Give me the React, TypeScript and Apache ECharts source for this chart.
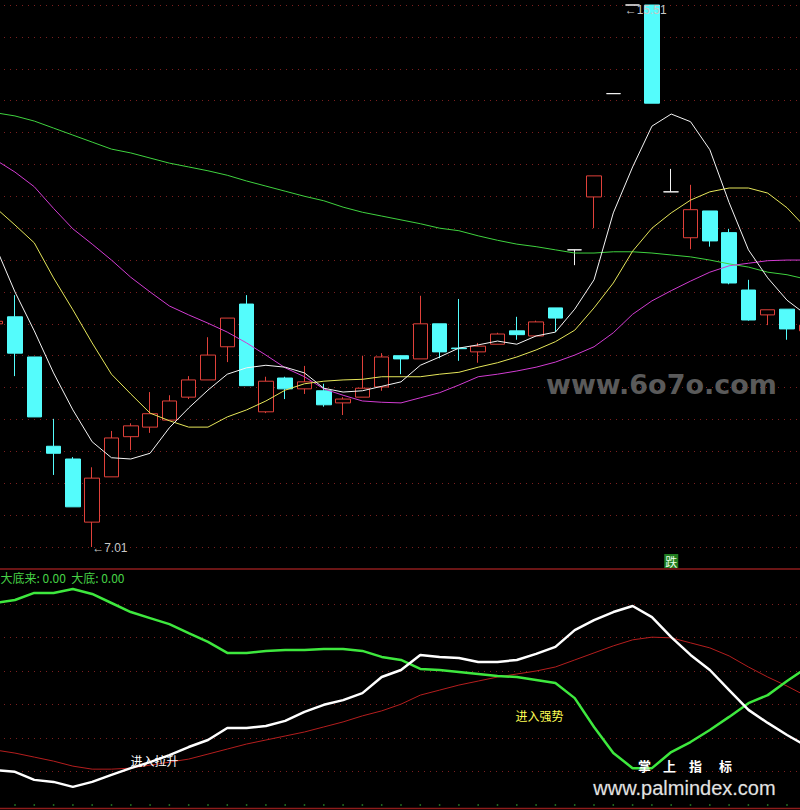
import React, { useEffect, useRef } from "react";
import * as echarts from "echarts";

// 43 trading days (first and last partially visible)
const categories = [
  "D01","D02","D03","D04","D05","D06","D07","D08","D09","D10",
  "D11","D12","D13","D14","D15","D16","D17","D18","D19","D20",
  "D21","D22","D23","D24","D25","D26","D27","D28","D29","D30",
  "D31","D32","D33","D34","D35","D36","D37","D38","D39","D40",
  "D41","D42","D43",
];

const openPrices = [
  10.51, 10.62, 9.99, 8.59, 8.39, 7.40, 8.11, 8.74, 8.89, 9.00,
  9.36, 9.63, 10.15, 10.82, 9.13, 9.66, 9.49, 9.46, 9.27, 9.36,
  9.52, 10.01, 9.96, 10.51, 10.13, 10.07, 10.19, 10.40, 10.32, 10.76,
  11.67, 12.50, 14.12, 15.51, 15.51, 12.58, 11.86, 12.28, 11.94, 11.04,
  10.65, 10.74, 10.40,
];
const closePrices = [
  10.55, 10.05, 9.05, 8.48, 7.64, 8.09, 8.72, 8.91, 9.10, 9.30,
  9.63, 10.02, 10.60, 9.54, 9.61, 9.49, 9.60, 9.24, 9.33, 9.50,
  9.99, 9.96, 10.51, 10.07, 10.12, 10.16, 10.35, 10.34, 10.54, 10.60,
  11.67, 12.83, 14.12, 15.51, 13.97, 12.58, 12.30, 11.81, 11.15, 10.57,
  10.73, 10.43, 10.49,
];
const lowPrices = [
  10.48, 9.69, 9.05, 8.14, 7.64, 7.01, 8.11, 8.53, 8.80, 9.00,
  9.33, 9.63, 9.91, 9.54, 9.11, 9.33, 9.41, 9.21, 9.08, 9.36,
  9.46, 9.72, 9.96, 9.97, 9.93, 9.90, 10.19, 10.26, 10.32, 10.38,
  11.43, 12.01, 14.12, 15.51, 13.97, 12.58, 11.68, 11.72, 11.13, 10.56,
  10.49, 10.26, 10.40,
];
const highPrices = [
  10.57, 10.96, 9.99, 9.02, 8.42, 8.26, 8.83, 8.95, 9.44, 9.39,
  9.69, 10.30, 10.60, 10.96, 9.68, 9.68, 9.85, 9.57, 9.36, 10.01,
  10.05, 10.01, 10.95, 10.51, 10.90, 10.21, 10.37, 10.62, 10.56, 10.76,
  11.67, 12.83, 14.12, 15.51, 15.51, 12.94, 12.69, 12.28, 12.00, 11.20,
  10.73, 10.74, 10.49,
];

const ma5 = [
  11.72, 11.01, 10.40, 9.74, 9.16, 8.66, 8.41, 8.39, 8.48, 8.88,
  9.19, 9.47, 9.72, 9.82, 9.86, 9.83, 9.74, 9.50, 9.44, 9.46,
  9.53, 9.60, 9.86, 9.99, 10.13, 10.18, 10.24, 10.19, 10.32, 10.38,
  10.74, 11.20, 12.25, 12.97, 13.61, 13.80, 13.68, 13.24, 12.41, 11.67,
  11.23, 10.88, 10.65,
];
const ma10 = [
  12.33, 12.06, 11.78, 11.23, 10.73, 10.21, 9.72, 9.41, 9.11, 8.99,
  8.89, 8.89, 9.05, 9.16, 9.30, 9.47, 9.57, 9.61, 9.63, 9.64,
  9.68, 9.68, 9.68, 9.72, 9.75, 9.83, 9.90, 9.99, 10.10, 10.23,
  10.41, 10.76, 11.15, 11.65, 12.01, 12.25, 12.45, 12.58, 12.64, 12.64,
  12.56, 12.33, 12.01,
];
const ma20 = [
  13.08, 12.89, 12.66, 12.32, 12.00, 11.76, 11.51, 11.24, 11.01, 10.79,
  10.65, 10.52, 10.38, 10.21, 10.02, 9.82, 9.68, 9.49, 9.39, 9.30,
  9.28, 9.27, 9.35, 9.43, 9.55, 9.68, 9.72, 9.77, 9.83, 9.91,
  10.02, 10.15, 10.37, 10.66, 10.87, 11.03, 11.18, 11.32, 11.42, 11.46,
  11.50, 11.51, 11.51,
];
const ma60 = [
  13.82, 13.77, 13.69, 13.58, 13.47, 13.36, 13.25, 13.19, 13.11, 13.03,
  12.97, 12.91, 12.84, 12.75, 12.67, 12.59, 12.51, 12.44, 12.34, 12.26,
  12.20, 12.14, 12.08, 12.01, 11.97, 11.89, 11.82, 11.76, 11.72, 11.67,
  11.62, 11.62, 11.64, 11.64, 11.62, 11.59, 11.56, 11.51, 11.45, 11.40,
  11.32, 11.28, 11.21,
];

// lower indicator panel
const indGreen = [
  60.3, 61.2, 63.3, 63.3, 64.5, 63.0, 60.3, 57.6, 55.8, 54.0,
  51.3, 48.7, 45.4, 45.4, 46.0, 46.3, 46.3, 46.6, 46.6, 46.0,
  44.2, 43.3, 40.6, 40.3, 39.7, 39.1, 38.5, 38.2, 37.3, 36.4,
  31.9, 23.3, 15.5, 11.0, 11.0, 15.8, 18.8, 22.4, 26.3, 30.4,
  32.8, 37.0, 40.9,
];
const indWhite = [
  10.4, 9.9, 7.5, 6.9, 5.4, 6.9, 9.0, 11.0, 12.8, 14.9,
  17.3, 19.4, 23.0, 23.0, 23.6, 25.1, 27.8, 29.9, 31.3, 33.4,
  38.2, 40.3, 44.8, 44.2, 43.9, 42.7, 42.7, 43.3, 45.1, 47.2,
  52.2, 55.2, 57.6, 59.4, 56.1, 50.1, 44.8, 40.3, 34.3, 28.4,
  24.5, 20.9, 17.6,
];
const indRed = [
  16.4, 15.5, 14.3, 13.1, 11.6, 10.7, 10.7, 11.0, 11.9, 12.8,
  13.7, 15.2, 16.7, 18.2, 19.4, 20.6, 21.8, 23.3, 24.8, 26.6,
  28.1, 30.1, 32.8, 34.3, 35.8, 37.0, 38.2, 39.1, 40.0, 41.2,
  43.3, 45.4, 47.5, 49.3, 50.1, 49.9, 48.4, 46.9, 44.5, 41.2,
  38.2, 35.5, 32.5,
];

const priceMin = 7.01;
const priceMax = 15.51;
const indicatorLegend = "大底来: 0.00  大底: 0.00";

const RED = "#e0413a";
const CYAN = "#54fcfc";
const WHITE = "#f4f4f4";
const GRID = "#7c1f1f";
const FONT = "'Liberation Sans', Arial, 'Noto Sans CJK SC', sans-serif";
const CJK = "'Noto Sans CJK SC', 'Liberation Sans', sans-serif";

// the chart canvas is wider than the window so that the first and last candles are cut
const SHIFT = 14.45;
const CHART_W = 829.9;

export default function App() {
  const ref = useRef<HTMLDivElement>(null);

  useEffect(() => {
    document.body.style.margin = "0";
    document.body.style.background = "#000";
    document.body.style.overflow = "hidden";
    const chart = echarts.init(ref.current as HTMLDivElement, null, { renderer: "svg" });

    const candleData = categories.map((_, i) => {
      const item: any = { value: [openPrices[i], closePrices[i], lowPrices[i], highPrices[i]] };
      if (openPrices[i] === closePrices[i]) {
        item.itemStyle = { color: WHITE, color0: WHITE, borderColor: WHITE, borderColor0: WHITE };
      }
      return item;
    });

    const hiddenX = (gi: number) => ({
      type: "category",
      gridIndex: gi,
      data: categories,
      boundaryGap: true,
      show: false,
    });

    const lineSeries = (name: string, data: number[], color: string, width: number, xi: number, yi: number, z = 3) => ({
      name,
      type: "line",
      xAxisIndex: xi,
      yAxisIndex: yi,
      data,
      showSymbol: false,
      symbol: "none",
      smooth: false,
      lineStyle: { color, width },
      z,
      silent: true,
    });

    const gl = "rgba(0,0,0,0)";

    chart.setOption({
      animation: false,
      backgroundColor: "#000",
      grid: [
        { left: 0, right: 0, top: 5, height: 542 },
        { left: 0, right: 0, top: 570.5, height: 234.5 },
      ],
      xAxis: [hiddenX(0), hiddenX(1)],
      yAxis: [
        {
          type: "value", gridIndex: 0, min: priceMin, max: priceMax,
          axisLine: { show: false }, axisTick: { show: false }, axisLabel: { show: false },
          splitLine: { show: false },
        },
        {
          type: "value", gridIndex: 0, min: 0, max: 17, interval: 1,
          axisLine: { show: false }, axisTick: { show: false }, axisLabel: { show: false },
          splitLine: { show: true, lineStyle: { color: GRID, width: 1, type: [1, 5] } },
        },
        {
          type: "value", gridIndex: 1, min: 0, max: 70, interval: 10,
          axisLine: { show: false }, axisTick: { show: false }, axisLabel: { show: false },
          splitLine: {
            show: true,
            lineStyle: { color: [gl, GRID, GRID, GRID, GRID, GRID, GRID, gl], width: 1, type: [1, 5] },
          },
        },
      ],
      series: [
        {
          name: "K",
          type: "candlestick",
          xAxisIndex: 0,
          yAxisIndex: 0,
          data: candleData,
          barWidth: 15,
          itemStyle: {
            color: "#000",
            color0: CYAN,
            borderColor: RED,
            borderColor0: CYAN,
            borderWidth: 1,
          },
          z: 2,
          silent: true,
        },
        lineSeries("MA60", ma60, "#3fd23f", 1, 0, 0),
        lineSeries("MA20", ma20, "#d23cd2", 1, 0, 0),
        lineSeries("MA10", ma10, "#e6e65a", 1, 0, 0),
        lineSeries("MA5", ma5, "#f4f4f4", 1, 0, 0),
        lineSeries("red", indRed, "#b41e1e", 1, 1, 2),
        lineSeries("green", indGreen, "#3ee83e", 2.5, 1, 2, 4),
        lineSeries("white", indWhite, "#ffffff", 2.5, 1, 2, 5),
      ],
    });

    const hiIdx = highPrices.indexOf(Math.max(...highPrices));
    const loIdx = lowPrices.indexOf(Math.min(...lowPrices));
    const hiPt = chart.convertToPixel({ xAxisIndex: 0, yAxisIndex: 0 }, [categories[hiIdx], highPrices[hiIdx]]) as number[];
    const loPt = chart.convertToPixel({ xAxisIndex: 0, yAxisIndex: 0 }, [categories[loIdx], lowPrices[loIdx]]) as number[];
    const fallIdx = 35;
    const fallPt = chart.convertToPixel({ xAxisIndex: 1, yAxisIndex: 2 }, [categories[fallIdx], 0]) as number[];
    const X = (x: number) => x + SHIFT; // window x -> chart x

    chart.setOption({
      graphic: [
        { type: "line", z: 100, shape: { x1: 0, y1: 569, x2: CHART_W, y2: 569 }, style: { stroke: "#8e1c1c", lineWidth: 1.5 } },
        { type: "line", z: 100, shape: { x1: 0, y1: 808.5, x2: CHART_W, y2: 808.5 }, style: { stroke: "#8e1c1c", lineWidth: 1.5 } },
        { type: "line", z: 100, shape: { x1: X(13.8), y1: 805, x2: CHART_W, y2: 805 }, style: { stroke: "#3ccc3c", lineWidth: 1, lineDash: [1.5, 17.8] } },
        {
          type: "text", x: hiPt[0] - 8, y: hiPt[1] + 5, z: 100,
          style: { text: "←" + priceMax.toFixed(2), fill: "#c8c8c8", font: `12px ${FONT}`, verticalAlign: "middle" },
        },
        {
          type: "text", x: loPt[0], y: loPt[1] + 1, z: 100,
          style: { text: "←" + priceMin.toFixed(2), fill: "#c8c8c8", font: `12px ${FONT}`, verticalAlign: "middle" },
        },
        { type: "rect", z: 100, shape: { x: fallPt[0] - 7, y: 554, width: 14, height: 14 }, style: { fill: "#1f7d1f" } },
        {
          type: "text", x: fallPt[0], y: 561.5, z: 101,
          style: { text: "跌", fill: "#e8ffe8", font: `12px ${CJK}`, align: "center", verticalAlign: "middle" },
        },
        {
          type: "text", x: X(0), y: 577.5, z: 100,
          style: { text: indicatorLegend, fill: "#46d246", font: `12px ${CJK}`, verticalAlign: "middle" },
        },
        {
          type: "text", x: X(130), y: 760, z: 100,
          style: { text: "进入拉升", fill: "#ffffff", font: `12px ${CJK}`, verticalAlign: "middle" },
        },
        {
          type: "text", x: X(515), y: 715, z: 100,
          style: { text: "进入强势", fill: "#ffff55", font: `12px ${CJK}`, verticalAlign: "middle" },
        },
        {
          type: "text", x: X(661), y: 384, z: 1,
          style: { text: "www.6o7o.com", fill: "#5a5a5a", font: `bold 27px 'DejaVu Sans', sans-serif`, align: "center", verticalAlign: "middle" },
        },
        { type: "text", x: X(644), y: 765, z: 100, style: { text: "掌", fill: "#ffffff", font: `bold 13px ${CJK}`, align: "center", verticalAlign: "middle" } },
        { type: "text", x: X(669), y: 765, z: 100, style: { text: "上", fill: "#ffffff", font: `bold 13px ${CJK}`, align: "center", verticalAlign: "middle" } },
        { type: "text", x: X(695), y: 765, z: 100, style: { text: "指", fill: "#ffffff", font: `bold 13px ${CJK}`, align: "center", verticalAlign: "middle" } },
        { type: "text", x: X(725), y: 765, z: 100, style: { text: "标", fill: "#ffffff", font: `bold 13px ${CJK}`, align: "center", verticalAlign: "middle" } },
        {
          type: "text", x: X(684), y: 788, z: 100,
          style: { text: "www.palmindex.com", fill: "#e2e2e2", font: `20px ${FONT}`, align: "center", verticalAlign: "middle", stroke: "#555", lineWidth: 0.5 },
        },
      ],
    });

    return () => chart.dispose();
  }, []);

  return (
    <div style={{ width: 800, height: 810, overflow: "hidden", position: "relative", background: "#000" }}>
      <div ref={ref} style={{ position: "absolute", left: -SHIFT, top: 0, width: CHART_W, height: 810 }} />
    </div>
  );
}
